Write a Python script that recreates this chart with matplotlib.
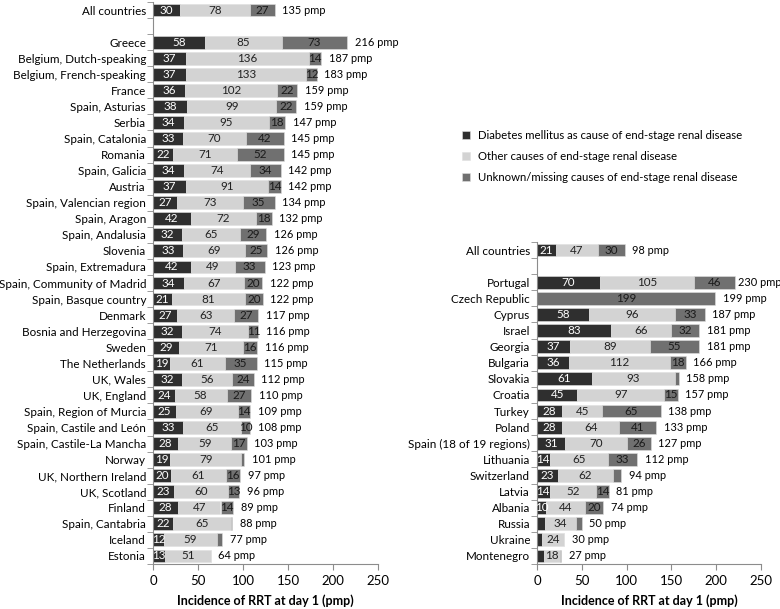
import numpy as np
import matplotlib
matplotlib.use("Agg")
import matplotlib.pyplot as plt

plt.rcParams['font.family'] = ['Lato', 'DejaVu Sans']

# left panel (blank entry = gap row)
left_names = ["All countries", "",
              "Greece", "Belgium, Dutch-speaking", "Belgium, French-speaking", "France",
              "Spain, Asturias", "Serbia", "Spain, Catalonia", "Romania", "Spain, Galicia",
              "Austria", "Spain, Valencian region", "Spain, Aragon", "Spain, Andalusia",
              "Slovenia", "Spain, Extremadura", "Spain, Community of Madrid",
              "Spain, Basque country", "Denmark", "Bosnia and Herzegovina", "Sweden",
              "The Netherlands", "UK, Wales", "UK, England", "Spain, Region of Murcia",
              "Spain, Castile and León", "Spain, Castile-La Mancha", "Norway",
              "UK, Northern Ireland", "UK, Scotland", "Finland", "Spain, Cantabria",
              "Iceland", "Estonia"]
left_dm = [30, 0, 58, 37, 37, 36, 38, 34, 33, 22, 34, 37, 27, 42, 32, 33, 42, 34, 21,
           27, 32, 29, 19, 32, 24, 25, 33, 28, 19, 20, 23, 28, 22, 12, 13]
left_other = [78, 0, 85, 136, 133, 102, 99, 95, 70, 71, 74, 91, 73, 72, 65, 69, 49, 67,
              81, 63, 74, 71, 61, 56, 58, 69, 65, 59, 79, 61, 60, 47, 65, 59, 51]
left_unk = [27, 0, 73, 14, 12, 22, 22, 18, 42, 52, 34, 14, 35, 18, 29, 25, 33, 20, 20,
            27, 11, 16, 35, 24, 27, 14, 10, 17, 3, 16, 13, 14, 1, 6, 0]
left_total = [135, None, 216, 187, 183, 159, 159, 147, 145, 145, 142, 142, 134, 132,
              126, 126, 123, 122, 122, 117, 116, 116, 115, 112, 110, 109, 108, 103,
              101, 97, 96, 89, 88, 77, 64]

# right panel
right_names = ["All countries", "",
               "Portugal", "Czech Republic", "Cyprus", "Israel", "Georgia", "Bulgaria",
               "Slovakia", "Croatia", "Turkey", "Poland", "Spain (18 of 19 regions)",
               "Lithuania", "Switzerland", "Latvia", "Albania", "Russia", "Ukraine",
               "Montenegro"]
right_dm = [21, 0, 70, 0, 58, 83, 37, 36, 61, 45, 28, 28, 31, 14, 23, 14, 10, 9, 6, 8]
right_other = [47, 0, 105, 0, 96, 66, 89, 112, 93, 97, 45, 64, 70, 65, 62, 52, 44, 34, 24, 18]
right_unk = [30, 0, 46, 199, 33, 32, 55, 18, 4, 15, 65, 41, 26, 33, 9, 14, 20, 7, 0, 1]
right_total = [98, None, 230, 199, 187, 181, 181, 166, 158, 157, 138, 133, 127, 112,
               94, 81, 74, 50, 30, 27]

legend_labels = ["Diabetes mellitus as cause of end-stage renal disease",
                 "Other causes of end-stage renal disease",
                 "Unknown/missing causes of end-stage renal disease"]

c_dm = "#2f2f2f"
c_other = "#d3d3d3"
c_unk = "#707070"
gray = "#8c8c8c"
fs_lab = 8.4


def panel(ax, names, dm, other, unk, total, edge_room=250):
    n = len(names)
    y = np.arange(n)
    dm = np.array(dm); other = np.array(other); unk = np.array(unk)
    h = 0.8
    b1 = ax.barh(y, dm, height=h, color=c_dm, edgecolor="#e0e0e0", linewidth=0.4)
    b2 = ax.barh(y, other, left=dm, height=h, color=c_other, edgecolor="#e0e0e0", linewidth=0.4)
    b3 = ax.barh(y, unk, left=dm + other, height=h, color=c_unk, edgecolor="#e0e0e0", linewidth=0.4)
    for i in range(n):
        if names[i] == "":
            continue
        segs = [(dm[i], 0, "white"), (other[i], dm[i], "#222222"),
                (unk[i], dm[i] + other[i], "#1a1a1a")]
        for v, start, col in segs:
            if v >= 10:
                ax.text(start + v / 2, i, str(v), ha="center", va="center",
                        fontsize=8.4, color=col)
        end = dm[i] + other[i] + unk[i]
        off = 5.5 if end < edge_room else 2.5   # keep the last label inside the figure
        ax.annotate("%d pmp" % total[i], (end, i), xytext=(off, 0),
                    textcoords="offset points", ha="left", va="center", fontsize=7.9)
    ax.set_ylim(n - 0.5, -0.5)
    ax.set_xlim(0, 250)
    ax.set_yticks(y)
    ax.set_yticklabels(names, fontsize=fs_lab)
    ax.set_yticks(np.arange(-0.5, n, 1), minor=True)
    ax.tick_params(axis="y", which="major", length=0, pad=5)
    ax.tick_params(axis="y", which="minor", length=4, color=gray)
    ax.set_xticks([0, 50, 100, 150, 200, 250])
    ax.tick_params(axis="x", length=4, color=gray, labelsize=9.5, pad=4)
    for s in ["top", "right"]:
        ax.spines[s].set_visible(False)
    for s in ["left", "bottom"]:
        ax.spines[s].set_color(gray)
        ax.spines[s].set_linewidth(0.8)
    ax.set_xlabel("Incidence of RRT at day 1 (pmp)", fontsize=9, fontweight="bold",
                  labelpad=5)
    return b1, b2, b3


fig = plt.figure(figsize=(7.8, 6.09), dpi=100)
ax1 = fig.add_axes([153 / 780, 1 - 564 / 609, 225 / 780, 562 / 609])
ax2 = fig.add_axes([537 / 780, 1 - 564 / 609, 224 / 780, 322 / 609])

bars = panel(ax1, left_names, left_dm, left_other, left_unk, left_total)
panel(ax2, right_names, right_dm, right_other, right_unk, right_total, edge_room=215)

fig.legend(bars, legend_labels, loc="upper left", bbox_to_anchor=(452 / 780, 1 - 120 / 609),
           frameon=False, fontsize=8.2, handlelength=0.7, handleheight=0.7,
           handletextpad=0.7, labelspacing=0.85)

fig.savefig("out.png", dpi=100)
